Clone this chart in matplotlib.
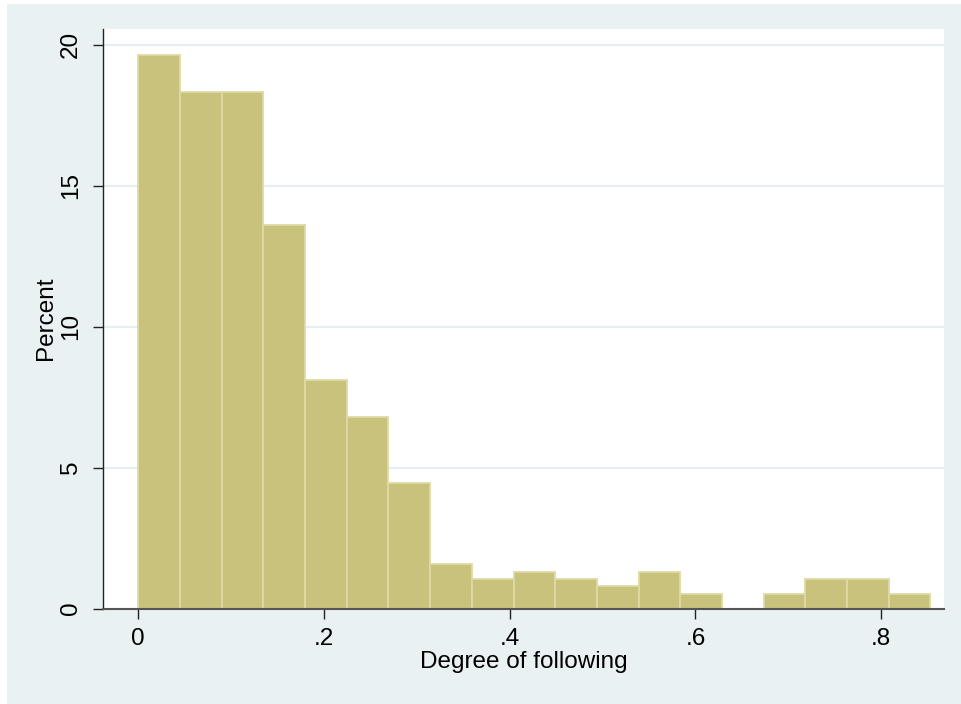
import matplotlib
matplotlib.use("Agg")
import matplotlib.pyplot as plt
from matplotlib.patches import Rectangle

# histogram of degree of following (percent per bin), 19 bins from 0 to ~.853
bin_start = 0.0
bin_width = 0.0449
percents = [19.63, 18.32, 18.32, 13.61, 8.12, 6.81, 4.45, 1.57, 1.05, 1.31,
            1.05, 0.79, 1.31, 0.52, 0.0, 0.52, 1.05, 1.05, 0.52]
xticks = [0, 0.2, 0.4, 0.6, 0.8]
xticklabels = ["0", ".2", ".4", ".6", ".8"]
yticks = [0, 5, 10, 15, 20]

plt.rcParams['font.family'] = ['Liberation Sans', 'DejaVu Sans']

fig = plt.figure(figsize=(9.61, 7.04), dpi=100)
fig.patch.set_facecolor("white")
# Stata-like graph region behind the axes
bg = Rectangle((7 / 961, 0), 1 - 7 / 961, 1 - 4 / 704,
               transform=fig.transFigure, facecolor="#EAF1F3",
               edgecolor="none", zorder=-5)
fig.add_artist(bg)

ax = fig.add_axes([103 / 961, 1 - 608.5 / 704, (944.3 - 103) / 961, (608.5 - 29) / 704])
ax.set_zorder(1)
ax.set_facecolor("white")

lefts = [bin_start + i * bin_width for i in range(len(percents))]
ax.bar(lefts, percents, width=bin_width, align="edge", color="#C9C27C",
       edgecolor="#DEDAA6", linewidth=1.3, zorder=2)

for y in yticks[1:]:
    ax.axhline(y, color="#E6EEF1", linewidth=1.6, zorder=1)

ax.set_xlim(-0.038, 0.868)
ax.set_ylim(0, 20.56)
ax.set_xticks(xticks)
ax.set_xticklabels(xticklabels)
ax.set_yticks(yticks)
ax.set_yticklabels([str(v) for v in yticks], rotation=90, va="center")

for side in ["top", "right"]:
    ax.spines[side].set_visible(False)
ax.spines["left"].set_color("#222222")
ax.spines["left"].set_linewidth(1.0)
ax.spines["bottom"].set_color("#555555")
ax.spines["bottom"].set_linewidth(1.5)
ax.spines["bottom"].set_zorder(3)

ax.tick_params(axis="both", length=7, width=1.0, color="#222222",
               labelsize=17.5, labelcolor="black")
ax.tick_params(axis="y", pad=8)
ax.tick_params(axis="x", pad=7)

ax.set_xlabel("Degree of following", fontsize=17.5, labelpad=1)
ax.set_ylabel("Percent", fontsize=17.5, labelpad=2)

fig.savefig("out.png", dpi=100, facecolor=fig.get_facecolor())
